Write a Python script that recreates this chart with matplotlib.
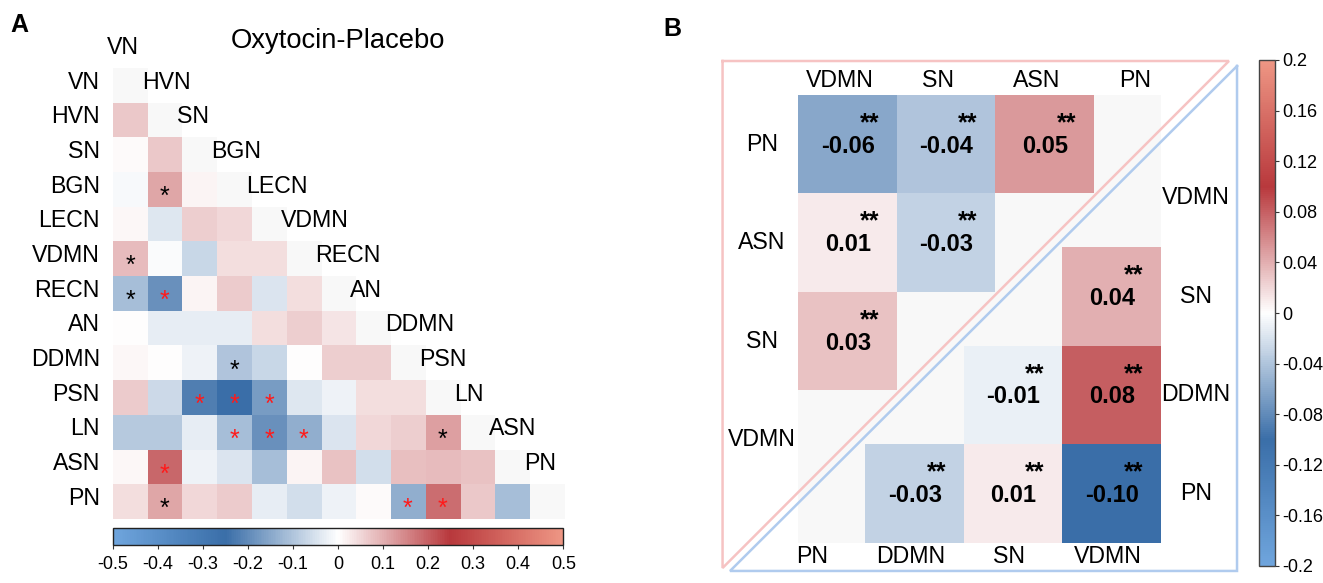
import numpy as np
import matplotlib
matplotlib.use('Agg')
import matplotlib.pyplot as plt
from matplotlib.colors import LinearSegmentedColormap, ListedColormap
from matplotlib.transforms import offset_copy

plt.rcParams['font.family'] = ['Liberation Sans', 'DejaVu Sans']

W, H = 1323, 583

# ---------------- Panel A data ----------------
networks_a = ['VN', 'HVN', 'SN', 'BGN', 'LECN', 'VDMN', 'RECN', 'AN',
              'DDMN', 'PSN', 'LN', 'ASN', 'PN']
lower_a = [
    [],
    [0.07],
    [0.005, 0.07],
    [-0.01, 0.11, 0.015],
    [0.01, -0.04, 0.06, 0.05],
    [0.085, -0.005, -0.067, 0.04, 0.04],
    [-0.11, -0.19, 0.015, 0.065, -0.045, 0.04],
    [0.0, -0.03, -0.03, -0.03, 0.04, 0.06, 0.035],
    [0.01, 0.0, -0.02, -0.10, -0.07, 0.0, 0.06, 0.06],
    [0.065, -0.065, -0.22, -0.25, -0.17, -0.04, -0.02, 0.04, 0.04],
    [-0.09, -0.09, -0.03, -0.11, -0.19, -0.14, -0.045, 0.05, 0.06, 0.12],
    [0.01, 0.19, -0.02, -0.045, -0.11, 0.015, 0.075, -0.055, 0.08, 0.085, 0.075],
    [0.04, 0.11, 0.05, 0.065, -0.03, -0.055, -0.02, 0.005, -0.14, 0.18, 0.07, -0.11],
]
sig_rows = [3, 5, 6, 6, 8, 9, 9, 9, 10, 10, 10, 10, 11, 12, 12, 12]
sig_cols = [1, 0, 0, 1, 3, 2, 3, 4, 3, 4, 5, 9, 1, 1, 8, 9]
sig_red = [0, 0, 0, 1, 0, 1, 1, 1, 1, 1, 1, 0, 1, 0, 1, 1]
title_a = 'Oxytocin-Placebo'
ticks_a = [-0.5, -0.4, -0.3, -0.2, -0.1, 0, 0.1, 0.2, 0.3, 0.4, 0.5]

# ---------------- Panel B data ----------------
b_ul_rows = ['PN', 'ASN', 'SN', 'VDMN']
b_ul_cols = ['VDMN', 'SN', 'ASN', 'PN']
b_ul_vals = [[-0.06, -0.04, 0.05], [0.01, -0.03], [0.03], []]
b_lr_rows = ['VDMN', 'SN', 'DDMN', 'PN']
b_lr_cols = ['PN', 'DDMN', 'SN', 'VDMN']
b_lr_vals = [[], [0.04], [-0.01, 0.08], [-0.03, 0.01, -0.10]]
b_mark = '**'
ticks_b = [0.2, 0.16, 0.12, 0.08, 0.04, 0, -0.04, -0.08, -0.12, -0.16, -0.2]

# ---------------- styling ----------------
cmap = LinearSegmentedColormap.from_list(
    'custom_rb', [(0.0, '#6fa5dd'), (0.25, '#3a6ea8'), (0.5, '#ffffff'),
                  (0.75, '#b8383c'), (1.0, '#ee9684')])
cmap.set_bad((0, 0, 0, 0))
diag_cmap = ListedColormap(['#f8f8f8'])
diag_cmap.set_bad((0, 0, 0, 0))
FS = 16.7


def px_rect(x0, y0, x1, y1):
    return [x0 / W, 1 - y1 / H, (x1 - x0) / W, (y1 - y0) / H]


def fmt_tick(t):
    t = round(t, 2)
    if t == 0:
        return '0'
    return f'{t:g}'


fig = plt.figure(figsize=(W / 100, H / 100), dpi=100)

# ================= Panel A =================
n = len(networks_a)
M = np.full((n, n), np.nan)
for i, row in enumerate(lower_a):
    for j, v in enumerate(row):
        M[i, j] = v
D = np.where(np.eye(n) == 1, 1.0, np.nan)

axA = fig.add_axes(px_rect(112.8, 68, 564, 519))
imA = axA.imshow(M, cmap=cmap, vmin=-0.5, vmax=0.5, extent=(0, n, n, 0),
                 aspect='auto', interpolation='nearest')
axA.imshow(D, cmap=diag_cmap, vmin=0, vmax=1, extent=(0, n, n, 0),
           aspect='auto', interpolation='nearest')
axA.set_xlim(0, n)
axA.set_ylim(n, 0)
axA.axis('off')

for i, name in enumerate(networks_a):
    axA.text(-0.37, i + 0.5 - 0.095, name, ha='right', va='center', fontsize=FS)
    axA.text(i - 0.16, i - 0.5 - 0.095, name, ha='left', va='center', fontsize=FS)

star_fs = 18
star_tr = offset_copy(axA.transData, fig=fig, x=0, y=-0.58 * star_fs, units='points')
for r, c, red in zip(sig_rows, sig_cols, sig_red):
    axA.text(c + 0.5, r + 0.5, '*', ha='center', va='baseline', fontsize=star_fs,
             color='#ff1a1a' if red else 'black', transform=star_tr)

axA.text(n / 2, -0.77, title_a, ha='center', va='center', fontsize=19.7)

caxA = fig.add_axes(px_rect(112.8, 528.3, 563.3, 545))
cbA = fig.colorbar(imA, cax=caxA, orientation='horizontal')
cbA.set_ticks(ticks_a)
cbA.set_ticklabels([fmt_tick(t) for t in ticks_a])
cbA.ax.tick_params(labelsize=13, length=3, width=0.8, pad=5, color='#333333')
cbA.outline.set_linewidth(1.0)
cbA.outline.set_edgecolor('#222222')

fig.text(10 / W, 1 - 13 / H, 'A', ha='left', va='top', fontsize=18, fontweight='bold')

# ================= Panel B =================
cell = 98.5
gx0, gy0, gx1, gy1 = 798.5, 95, 1161, 542.7
lr_x0 = (767 - gx0) / cell
lr_y0 = (148.7 - gy0) / cell

U = np.full((4, 4), np.nan)
for r, row in enumerate(b_ul_vals):
    for c, v in enumerate(row):
        U[r, c] = v
L = np.full((4, 4), np.nan)
for r, row in enumerate(b_lr_vals):
    for k, v in enumerate(row):
        L[r, 4 - len(row) + k] = v

axB = fig.add_axes(px_rect(gx0, gy0, gx1, gy1))
axB.set_facecolor('#f8f8f8')
imB = axB.imshow(U, cmap=cmap, vmin=-0.2, vmax=0.2, extent=(0, 4, 4, 0),
                 aspect='auto', interpolation='nearest')
axB.imshow(L, cmap=cmap, vmin=-0.2, vmax=0.2,
           extent=(lr_x0, lr_x0 + 4, lr_y0 + 4, lr_y0),
           aspect='auto', interpolation='nearest')
axB.set_xlim(0, (gx1 - gx0) / cell)
axB.set_ylim((gy1 - gy0) / cell, 0)
for s in axB.spines.values():
    s.set_visible(False)
axB.set_xticks([])
axB.set_yticks([])

# triangles (layout decoration, in cell units)
pink_tri = np.array([(-0.771, -0.345), (4.370, -0.345), (-0.771, 4.802), (-0.771, -0.345)])
blue_tri = np.array([(4.452, -0.294), (4.452, 4.832), (-0.695, 4.832), (4.452, -0.294)])
axB.plot(pink_tri[:, 0], pink_tri[:, 1], color='#f6c3c3', lw=1.8, clip_on=False,
         solid_joinstyle='miter')
axB.plot(blue_tri[:, 0], blue_tri[:, 1], color='#b0cbee', lw=1.8, clip_on=False,
         solid_joinstyle='miter')

num_fs = 17
mark_fs = 18


def annotate_cell(cx, cy, v):
    axB.text(cx, cy + 0.02, f'{v:.2f}', ha='center', va='center', fontsize=num_fs,
             fontweight='bold')
    tr = offset_copy(axB.transData, fig=fig, x=0, y=-0.58 * mark_fs, units='points')
    axB.text(cx + 0.22, cy - 0.29, b_mark, ha='center', va='baseline',
             fontsize=mark_fs, fontweight='bold', transform=tr)


for r in range(4):
    for c in range(4):
        if not np.isnan(U[r, c]):
            annotate_cell(c + 0.5, r + 0.5, U[r, c])
        if not np.isnan(L[r, c]):
            annotate_cell(lr_x0 + c + 0.5, lr_y0 + r + 0.5, L[r, c])

for k, name in enumerate(b_ul_cols):
    axB.text(k + 0.5 - 0.08, -0.152, name, ha='center', va='center', fontsize=FS)
for r, name in enumerate(b_ul_rows):
    axB.text(-0.374, r + 0.5, name, ha='center', va='center', fontsize=FS)
for r, name in enumerate(b_lr_rows):
    axB.text(lr_x0 + 4.355, lr_y0 + r + 0.5, name, ha='center', va='center', fontsize=FS)
for k, name in enumerate(b_lr_cols):
    axB.text(lr_x0 + k + 0.5 - 0.04, lr_y0 + 4 + 0.142, name, ha='center',
             va='center', fontsize=FS)

caxB = fig.add_axes(px_rect(1259, 60, 1275, 566))
cbB = fig.colorbar(imB, cax=caxB, orientation='vertical')
cbB.set_ticks(ticks_b)
cbB.set_ticklabels([fmt_tick(t) for t in ticks_b])
cbB.ax.tick_params(labelsize=13, length=3, width=0.8, pad=2, color='#333333')
cbB.outline.set_linewidth(1.0)
cbB.outline.set_edgecolor('#444444')

fig.text(663 / W, 1 - 17 / H, 'B', ha='left', va='top', fontsize=18, fontweight='bold')

fig.savefig('out.png', dpi=100)
